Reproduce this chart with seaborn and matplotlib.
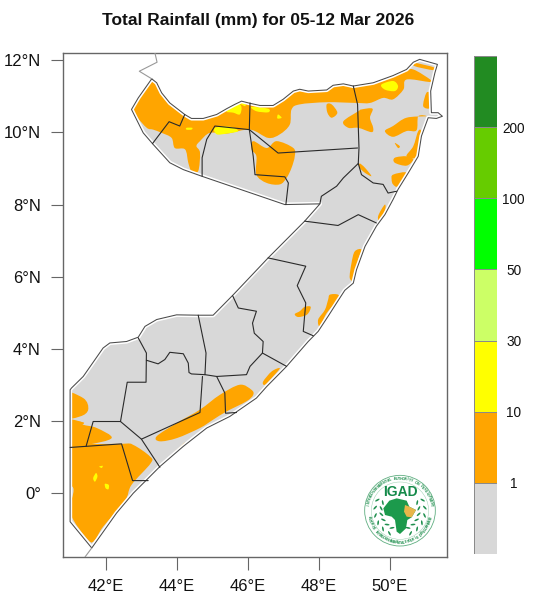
import numpy as np
import matplotlib
matplotlib.use("Agg")
import matplotlib.pyplot as plt
from matplotlib.colors import ListedColormap
from matplotlib.path import Path
from matplotlib.patches import Polygon, Circle, Ellipse, PathPatch
import seaborn as sns

TITLE = "Total Rainfall (mm) for 05-12 Mar 2026"
LON_TICKS = [42, 44, 46, 48, 50]
LON_LABELS = ["42°E", "44°E", "46°E", "48°E", "50°E"]
LAT_TICKS = [0, 2, 4, 6, 8, 10, 12]
LAT_LABELS = ["0°", "2°N", "4°N", "6°N", "8°N", "10°N", "12°N"]
BAR_LABELS = ["200", "100", "50", "30", "10", "1"]
BAR_COLORS = ["#228B22", "#66CC00", "#00FF00", "#CCFF66", "#FFFF00", "#FFA500", "#D8D8D8"]

COUNTRY = [(43.29,11.49),(43.43,11.38),(43.57,11.10),(43.80,10.82),(44.22,10.50),(44.41,10.39),(44.74,10.39),(45.12,10.50),
 (45.40,10.66),(45.63,10.78),(45.82,10.87),(46.06,10.81),(46.34,10.75),(46.71,10.75),(46.99,10.92),(47.28,11.15),(47.46,11.20),
 (47.70,11.15),(48.22,11.18),(48.40,11.31),(48.69,11.35),(48.97,11.29),(49.53,11.38),(50.09,11.58),(50.47,11.75),(50.66,11.95),
 (50.84,12.03),(51.34,11.89),(51.27,11.66),(51.15,11.15),(51.17,10.55),(51.36,10.55),(51.48,10.45),(51.31,10.39),(51.08,10.41),
 (50.89,9.90),(50.80,9.34),(50.52,8.88),(50.23,8.42),(50.09,8.14),(49.86,7.72),(49.62,7.40),(49.30,6.84),(49.06,6.19),(48.97,5.82),
 (48.73,5.62),(48.50,5.27),(48.26,4.90),(47.98,4.48),(47.70,4.20),(47.09,3.51),(46.53,2.95),(46.24,2.63),(45.49,2.12),
 (44.84,1.80),(44.18,1.29),(43.52,0.73),(42.77,-0.01),(42.30,-0.56),(41.60,-1.53),(40.99,-0.80),(40.99,2.86),
 (41.03,2.91),(41.36,3.23),(41.92,4.02),(42.11,4.16),(42.58,4.20),(42.91,4.32),(43.10,4.62),(43.43,4.81),
 (43.99,4.94),(44.60,4.93),(45.02,4.93),(45.59,5.50),(46.57,6.52),(47.60,7.54),(48.03,8.02),(47.04,8.00),
 (44.69,8.79),(44.18,8.97),(43.80,9.16),(43.33,9.67),(43.05,9.99),(42.72,10.64),(42.91,10.96)]
DJIBOUTI_EDGE = [(43.38,12.21),(43.44,11.95),(42.94,11.70),(43.29,11.49)]
KENYA_EDGE = [(41.60,-1.53),(41.41,-1.78)]

REGION_LINES = [
 [(44.22,10.50),(44.08,10.18),(43.78,10.30),(43.31,9.69)],
 [(46.06,10.82),(46.04,10.08)],
 [(44.71,8.79),(44.71,9.30),(44.84,9.81),(45.07,10.18),(46.04,10.08)],
 [(46.04,10.08),(46.15,9.34),(46.20,8.83),(47.04,8.77),(47.14,8.60),(47.07,8.00)],
 [(46.04,10.08),(46.85,9.43),(49.09,9.57)],
 [(48.97,11.29),(49.09,10.78),(49.13,9.57),(49.11,9.14),(49.20,8.83),(49.53,8.60),(49.81,8.56),(49.95,8.32),(50.19,8.37)],
 [(49.11,9.14),(48.69,8.74),(48.50,8.51),(48.07,8.23),(48.03,8.03)],
 [(47.60,7.54),(48.54,7.42),(49.11,7.72),(49.62,7.49)],
 [(46.57,6.52),(47.63,6.29),(47.39,5.75),(47.63,5.27),(47.56,4.48),(47.84,4.36)],
 [(45.57,5.47),(45.73,5.13),(46.24,5.04),(46.13,4.71),(46.18,4.43),(46.43,4.20),(46.41,3.88),(46.06,3.51),(45.96,3.28),(45.12,3.23),(44.79,3.28),(44.82,3.88),(44.60,4.93)],
 [(46.41,3.88),(47.09,3.51)],
 [(42.91,4.30),(43.14,3.88),(43.13,3.07),(42.60,3.07),(42.41,1.98),(41.64,1.98),(41.44,1.29)],
 [(40.99,1.26),(42.44,1.36),(42.75,0.34),(43.19,0.34)],
 [(42.41,1.98),(43.00,1.49),(43.52,0.71)],
 [(43.00,1.49),(44.65,2.23),(44.72,3.23)],
 [(45.12,3.23),(45.35,2.77),(45.37,2.21),(45.68,2.23)],
 [(43.14,3.68),(43.47,3.58),(43.66,3.70),(43.80,3.90),(44.18,3.86),(44.32,3.60),(44.34,3.34),(44.41,3.30),(44.79,3.28)],
]

ORANGE_AREAS = [
 [(42.70,10.75),(43.10,11.40),(43.50,11.45),(43.85,10.95),(44.23,10.60),(44.41,10.50),(44.74,10.50),(45.21,10.65),
  (45.77,10.95),(46.06,10.90),(46.62,10.85),(47.09,11.05),(47.46,11.25),(48.22,11.25),(48.69,11.45),(48.97,11.40),
  (49.72,11.50),(50.38,11.70),(50.66,11.75),(51.15,11.46),(51.13,11.40),(50.47,11.47),(50.38,11.19),(50.09,10.92),
  (49.81,10.96),(49.44,10.82),(49.06,10.82),(48.22,10.84),(47.46,10.78),(47.23,10.64),(47.18,10.22),(46.90,9.95),
  (46.57,9.85),(46.06,10.08),(45.40,9.97),(44.93,9.99),(44.65,9.76),(44.55,9.62),(44.65,9.44),(44.60,8.93),
  (44.41,8.93),(44.32,9.16),(44.23,9.53),(43.94,9.57),(43.85,9.85),(43.57,9.99),(43.33,10.08),(43.15,10.13),(42.86,10.45)],
 [(46.15,9.76),(46.53,9.57),(46.81,9.76),(47.28,9.57),(47.32,9.34),(47.23,9.02),(47.09,8.74),(46.90,8.56),(46.53,8.60),(46.24,8.83),(46.24,9.34),(46.10,9.53)],
 [(48.22,10.78),(48.36,10.78),(48.52,10.55),(48.36,10.41),(48.24,10.55)],
 [(49.11,10.59),(48.69,10.31),(48.83,10.13),(49.11,10.13),(49.48,10.01),(49.53,10.13),(49.44,10.41),(49.51,10.66),(49.20,10.64)],
 [(51.03,10.45),(50.47,10.41),(50.09,10.18),(49.86,10.04),(50.09,9.88),(50.47,10.04),(50.75,10.06),(50.80,10.45)],
 [(51.03,11.10),(51.15,11.06),(51.15,10.69),(50.94,10.73)],
 [(50.80,10.04),(50.89,9.99),(50.84,9.34),(50.47,9.34),(50.66,9.62)],
 [(50.14,9.30),(50.47,9.34),(50.66,9.25),(50.47,9.08),(50.14,9.16)],
 [(50.09,8.83),(50.47,8.88),(50.23,8.51),(50.09,8.56),(50.05,8.69)],
 [(49.15,9.14),(49.30,9.02),(49.48,8.79),(49.30,8.88),(49.15,9.02)],
 [(50.66,11.94),(51.27,11.80),(51.22,11.73),(50.70,11.84)],
 [(50.14,9.71),(50.28,9.62),(50.23,9.57)],
 [(49.86,8.00),(49.86,7.77),(49.72,7.49),(49.67,7.68)],
 [(49.01,6.70),(49.20,6.75),(49.11,6.47),(49.01,5.92),(48.87,5.96),(48.92,6.38)],
 [(48.31,5.50),(48.54,5.50),(48.54,5.36),(48.22,4.99),(48.03,4.62),(47.98,4.81),(48.17,5.08),(48.26,5.36)],
 [(47.32,4.96),(47.46,5.04),(47.60,5.16),(47.77,5.16),(47.67,4.95),(47.42,4.88)],
 [(46.90,3.46),(46.71,3.23),(46.48,3.00),(46.43,3.09),(46.67,3.37)],
 [(43.43,1.57),(44.00,1.94),(44.65,2.31),(45.21,2.72),(45.77,3.00),(46.10,2.86),(46.15,2.72),(45.96,2.54),(45.40,2.26),(45.02,2.03),(44.65,1.80),(44.00,1.52),(43.52,1.43)],
 [(40.70,1.24),(42.44,1.36),(42.77,1.33),(43.24,1.01),(43.26,0.82),(42.72,0.22),(42.53,-0.24),(41.92,-0.94),(41.69,-1.31),(41.50,-1.31),(41.00,-0.57),(41.08,0.13),(40.70,0.36)],
 [(40.70,2.82),(41.36,2.63),(41.50,2.31),(41.27,2.12),(40.70,2.08)],
 [(40.70,2.03),(41.27,1.98),(41.36,1.89),(41.74,1.80),(42.16,1.52),(41.45,1.33),(40.70,1.27)],
 [(43.90,1.10),(44.23,1.40),(44.08,1.20),(43.94,1.06)],
 [(41.17,1.98),(41.38,1.95),(41.31,1.89)],
]
YELLOW_AREAS = [
 [(49.76,11.33),(50.09,11.43),(50.23,11.29),(50.14,11.15),(49.86,11.19)],
 [(45.07,10.13),(45.49,10.16),(45.73,10.04),(45.40,9.97),(45.12,9.95)],
 [(45.40,10.59),(45.73,10.78),(45.82,10.69),(45.77,10.50),(45.59,10.55)],
 [(46.10,10.71),(46.57,10.66),(46.57,10.56),(46.24,10.59)],
 [(46.85,10.50),(46.95,10.41),(46.83,10.39)],
 [(44.27,10.13),(44.43,10.13),(44.41,10.08),(44.27,10.08)],
 [(45.77,10.81),(45.92,10.81),(45.92,10.73)],
 [(41.64,0.41),(41.72,0.55),(41.76,0.45),(41.69,0.31)],
 [(41.97,0.25),(42.08,0.22),(42.07,0.10),(41.99,0.13)],
 [(41.81,0.73),(41.91,0.75),(41.88,0.69)],
]

LOGO_AFRICA = [(118,122),(140,115),(170,122),(178,140),(198,150),(185,172),(172,180),(168,205),(150,222),(140,215),(135,180),(125,170),(105,165),(100,145)]
LOGO_HORN = [(165,135),(178,140),(198,150),(185,172),(170,170),(162,155)]
LOGO_TOP = "INTERGOVERNMENTAL AUTHORITY ON DEVELOPMENT"
LOGO_BOTTOM = "AUTORITÉ INTERGOUVERNEMENTALE POUR LE DÉVELOPPEMENT"

W, H = 534, 600
sns.set_theme(style="white")
plt.rcParams["font.family"] = ["Liberation Sans", "DejaVu Sans"]
plt.rcParams["axes.edgecolor"] = "#666666"

def box(x0, y0, x1, y1):
    return [x0 / W, 1 - y1 / H, (x1 - x0) / W, (y1 - y0) / H]

def rounded(area):
    """Closed Bezier outline through the vertices, so rain areas draw with soft contour edges."""
    p = np.asarray(area, float)
    n = len(p)
    verts, codes = [p[0]], [Path.MOVETO]
    for i in range(n):
        p0, p1, p2, p3 = p[i - 1], p[i], p[(i + 1) % n], p[(i + 2) % n]
        verts += [p1 + (p2 - p0) / 6, p2 - (p3 - p1) / 6, p2]
        codes += [Path.CURVE4] * 3
    return Path(verts, codes)

fig = plt.figure(figsize=(W / 100, H / 100), dpi=100, facecolor="white")
ax = fig.add_axes(box(63, 52.5, 447, 557))

land = Polygon(COUNTRY, closed=True, facecolor=BAR_COLORS[6], edgecolor="none", zorder=1)
ax.add_patch(land)
for area in ORANGE_AREAS:
    p = PathPatch(rounded(area), facecolor=BAR_COLORS[5], edgecolor="none", zorder=2)
    ax.add_patch(p)
    p.set_clip_path(land)
for area in YELLOW_AREAS:
    p = PathPatch(rounded(area), facecolor=BAR_COLORS[4], edgecolor="none", zorder=3)
    ax.add_patch(p)
    p.set_clip_path(land)

ring = COUNTRY + COUNTRY[:1]
ax.plot(*zip(*ring), color="white", lw=3.0, zorder=4)
sns.lineplot(x=[c[0] for c in ring], y=[c[1] for c in ring], sort=False, estimator=None,
             color="#4a4a4a", lw=0.75, ax=ax, zorder=5)
for edge in (DJIBOUTI_EDGE, KENYA_EDGE):
    sns.lineplot(x=[c[0] for c in edge], y=[c[1] for c in edge], sort=False, estimator=None,
                 color="#999999", lw=0.8, ax=ax, zorder=5)
for line in REGION_LINES:
    sns.lineplot(x=[c[0] for c in line], y=[c[1] for c in line], sort=False, estimator=None,
                 color="#2a2a2a", lw=0.8, ax=ax, zorder=6)

ax.set_xlim(40.79, 51.61)
ax.set_ylim(-1.78, 12.22)
ax.set_xlabel("")
ax.set_ylabel("")
ax.set_xticks(LON_TICKS, LON_LABELS)
ax.set_yticks(LAT_TICKS, LAT_LABELS)
ax.tick_params(axis="both", direction="out", length=9, width=0.8, color="#666666",
               labelsize=12, labelcolor="#111111", pad=7, bottom=True, left=True)
for s in ax.spines.values():
    s.set_linewidth(1.0)

fig.text(258 / W, 1 - 20 / H, TITLE, ha="center", va="center", fontsize=12.5,
         fontweight="bold", color="#111111")

# colour bar
cax = fig.add_axes(box(474, 56, 497, 554))
sns.heatmap(np.arange(7).reshape(-1, 1), cmap=ListedColormap(BAR_COLORS), cbar=False, ax=cax,
            linewidths=0.6, linecolor="#8a8a8a", xticklabels=False, yticklabels=False)
cax.yaxis.tick_right()
cax.set_yticks(range(1, 7), BAR_LABELS, rotation=0, ha="center")
cax.tick_params(axis="y", length=0, pad=12, labelsize=9.8, labelcolor="#111111")
cax.set_xticks([])

# logo
lax = fig.add_axes(box(350, 460, 450, 560), zorder=10)
lax.set_xlim(0, 300)
lax.set_ylim(300, 0)
lax.axis("off")
green = "#1f8f4e"
cx, cy = 150, 152
lax.add_patch(Circle((cx, cy), 106, fill=False, ec="#5fae80", lw=0.6))
lax.add_patch(Circle((cx, cy), 86, fill=False, ec="#8cc8a4", lw=0.3))
for i, ch in enumerate(LOGO_TOP):
    a = np.radians(-170 + 160 * i / (len(LOGO_TOP) - 1))
    lax.text(cx + 96 * np.cos(a), cy + 96 * np.sin(a), ch, fontsize=2.6, color=green, ha="center", va="center",
             rotation=-np.degrees(a) - 90, rotation_mode="anchor", fontweight="bold")
for i, ch in enumerate(LOGO_BOTTOM):
    a = np.radians(168 - 156 * i / (len(LOGO_BOTTOM) - 1))
    lax.text(cx + 96 * np.cos(a), cy + 96 * np.sin(a), ch, fontsize=2.4, color=green, ha="center", va="center",
             rotation=90 - np.degrees(a), rotation_mode="anchor", fontweight="bold")
lax.text(151, 95, "IGAD", fontsize=10, fontweight="bold", color="#158a4a", ha="center", va="center")
lax.add_patch(Polygon(LOGO_AFRICA, closed=True, fc="#1c9a4c", ec="none"))
lax.add_patch(Polygon(LOGO_HORN, closed=True, fc="#e9b64a", ec="none"))
for side in (-1, 1):
    for deg in np.arange(-25, 75, 18):
        a = np.radians(deg)
        for off in (-9, 9):
            r = 66 + off
            x = cx + side * r * np.cos(a)
            y = cy + r * np.sin(a)
            lax.add_patch(Ellipse((x, y), 15, 5, angle=side * (deg + 90 - off * 4), fc="#1f8f4e", ec="none"))

fig.savefig("out.png", dpi=100, facecolor="white")
